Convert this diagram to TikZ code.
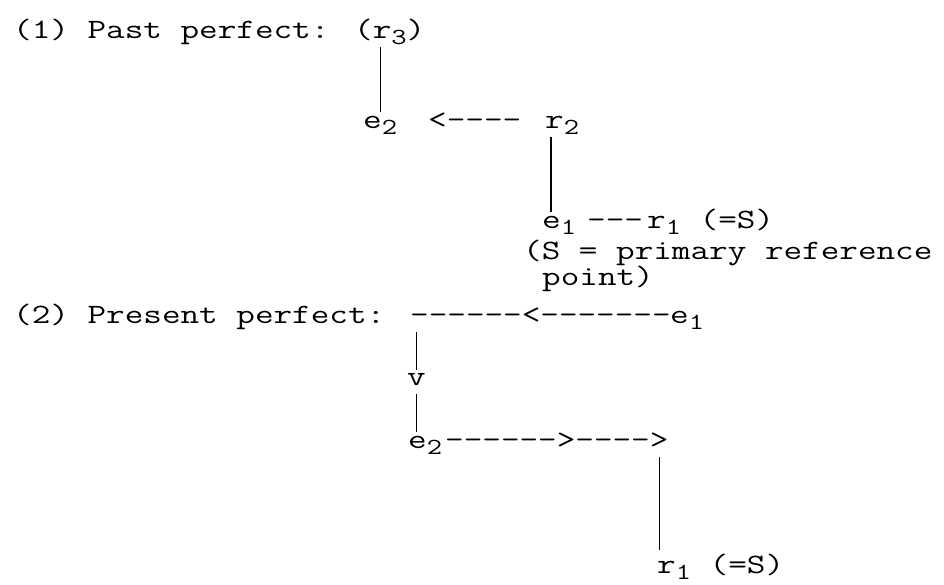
\documentclass[tikz,border=0pt]{standalone}
\usepackage{graphicx}
\usepackage{tikz}

% wide typewriter face and lowered index
\newcommand{\cw}[1]{\scalebox{1.29}[1]{#1}}
\newcommand{\lowsub}[1]{\raisebox{-0.22em}{\fontsize{23}{23}\selectfont #1}}

\begin{document}
\begin{tikzpicture}
      [ x=1pt, y=-1pt
      , txt/.style={anchor=base west, inner xsep=0pt, inner ysep=3pt, text depth=6pt,
                    font=\ttfamily\fontsize{28}{32}\selectfont}
      , tie/.style={draw, line width=1.2pt}
      ]
    \useasboundingbox (0,0) rectangle (944,584);

    % (1) past perfect
    \node[txt] (past) at (13,38) {\cw{(1) Past perfect: (r\lowsub{3})}};
    \node[txt] (e2a) at (363,128) {\cw{e\lowsub{2}}};
    \node[txt] (back) at (428,128) {\cw{<----}};
    \node[txt] (r2) at (545,128) {\cw{r\lowsub{2}}};
    \node[txt] (e1a) at (542,228) {\cw{e\lowsub{1}}};
    \node[txt] (dashA) at (587,228) {\cw{---}};
    \node[txt] (r1a) at (647,228) {\cw{r\lowsub{1} (=S)}};
    \node[txt] (note) at (523,259) {\cw{(S = primary reference}};
    \node[txt] (noteB) at (542,285) {\cw{point)}};

    \draw[tie] (e2a.north) -- (e2a.north |- past.south);
    \draw[tie] ([xshift=6pt]r2.south west) -- ([xshift=6pt]r2.south west |- e1a.north);

    % (2) present perfect
    \node[txt] (pres) at (13,323) {\cw{(2) Present perfect:}};
    \node[txt] (pdash) at (410,323) {\cw{------<-------}};
    \node[txt] (e1b) at (670,323) {\cw{e\lowsub{1}}};
    \node[txt] (v) at (407,385) {\cw{v}};
    \node[txt] (e2b) at (408,448) {\cw{e\lowsub{2}}};
    \node[txt] (fdash) at (445,448) {\cw{------>---->}};
    \node[txt] (r1b) at (657,573) {\cw{r\lowsub{1} (=S)}};

    \draw[tie] (v.north) -- (v.north |- pdash.south);
    \draw[tie] (v.south) -- (v.south |- e2b.north);
    \draw[tie] ([xshift=-9pt]fdash.south east) -- ([xshift=-9pt]fdash.south east |- r1b.north);

  \end{tikzpicture}
\end{document}
